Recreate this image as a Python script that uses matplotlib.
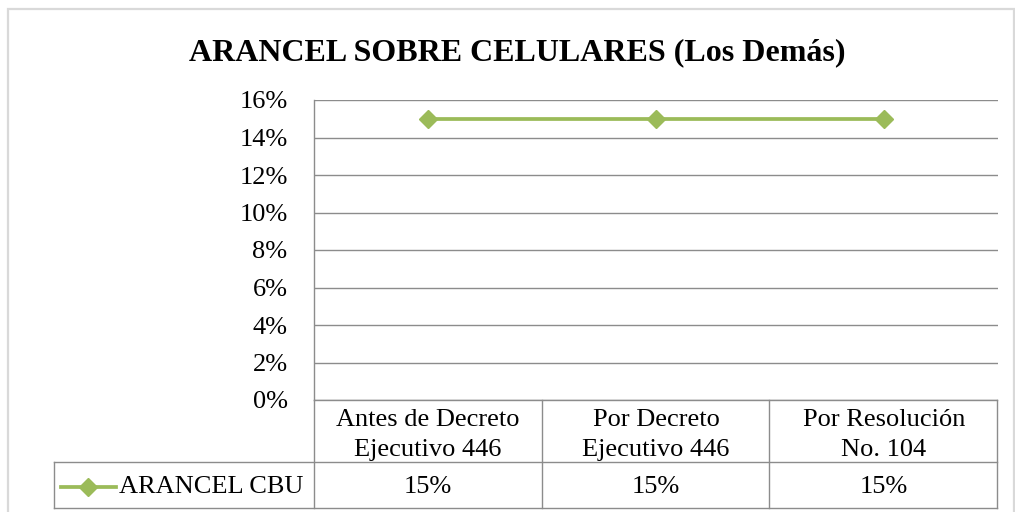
import matplotlib
matplotlib.use('Agg')
import matplotlib.pyplot as plt
from matplotlib.lines import Line2D
from matplotlib.patches import Rectangle

categories = ['Antes de Decreto\nEjecutivo 446', 'Por Decreto\nEjecutivo 446', 'Por Resolución\nNo. 104']
values = [0.15, 0.15, 0.15]
series_name = 'ARANCEL CBU'
title = 'ARANCEL SOBRE CELULARES (Los Demás)'
yticks = [0, 0.02, 0.04, 0.06, 0.08, 0.10, 0.12, 0.14, 0.16]

W, H = 1015, 512
green = '#9BBB59'
grid_c = '#8C8C8C'
fs = 19

plt.rcParams['font.family'] = ['Liberation Serif', 'DejaVu Serif']

fig = plt.figure(figsize=(W / 100, H / 100), dpi=100)


def fx(px):
    return px / W


def fy(py):
    return 1 - py / H


# outer chart border
fig.add_artist(Rectangle((fx(8), fy(520)), fx(1014) - fx(8), fy(9) - fy(520),
                         transform=fig.transFigure, fill=False,
                         edgecolor='#D9D9D9', linewidth=1.6))

left, right, top, bottom = 314, 998, 100, 400
ax = fig.add_axes([fx(left), fy(bottom), fx(right) - fx(left), fy(top) - fy(bottom)])

x = list(range(len(categories)))
ax.plot(x, values, color=green, linewidth=2.7, marker='D', markersize=9,
        markerfacecolor=green, markeredgecolor=green, zorder=3)

ax.set_xlim(-0.5, len(categories) - 0.5)
ax.set_ylim(0, 0.16)
ax.set_yticks(yticks)
ax.set_yticklabels([f'{round(t * 100)}%' for t in yticks], fontsize=fs)
ax.tick_params(axis='y', length=0, pad=19)
ax.set_xticks([])
ax.grid(axis='y', color=grid_c, linewidth=1)
ax.set_axisbelow(True)
for s in ['top', 'right', 'bottom']:
    ax.spines[s].set_visible(False)
ax.spines['left'].set_color(grid_c)
ax.spines['left'].set_linewidth(1)

fig.text(fx(517), fy(53), title, ha='center', va='center',
         fontsize=23, fontweight='bold')


# data table under the plot
def hline(x0, x1, y):
    fig.add_artist(Line2D([fx(x0), fx(x1)], [fy(y), fy(y)], transform=fig.transFigure,
                          color=grid_c, linewidth=1))


def vline(xp, y0, y1):
    fig.add_artist(Line2D([fx(xp), fx(xp)], [fy(y0), fy(y1)], transform=fig.transFigure,
                          color=grid_c, linewidth=1))


row1, row2 = 462, 508
hline(left, right - 1, bottom)
hline(54, right - 1, row1)
hline(54, right - 1, row2)
vline(54, row1, row2)
vline(left, bottom, row2)
col_w = (right - 1 - left) / len(categories)
for i in range(1, len(categories) + 1):
    vline(left + i * col_w, bottom, row2)

trans = ax.get_xaxis_transform()
for i, (cat, v) in enumerate(zip(categories, values)):
    ax.text(i, 1 - (435 - top) / (bottom - top), cat, transform=trans, ha='center',
            va='center', fontsize=fs, linespacing=1.5, clip_on=False)
    ax.text(i, 1 - (487 - top) / (bottom - top), f'{round(v * 100)}%', transform=trans,
            ha='center', va='center', fontsize=fs, clip_on=False)

# legend key
fig.add_artist(Line2D([fx(61), fx(116)], [fy(487), fy(487)], transform=fig.transFigure,
                      color=green, linewidth=2.7))
fig.add_artist(Line2D([fx(88)], [fy(487)], transform=fig.transFigure, color=green,
                      marker='D', markersize=9, linestyle='none'))
fig.text(fx(119), fy(487), series_name, ha='left', va='center', fontsize=fs)

fig.savefig('out.png', dpi=100)
